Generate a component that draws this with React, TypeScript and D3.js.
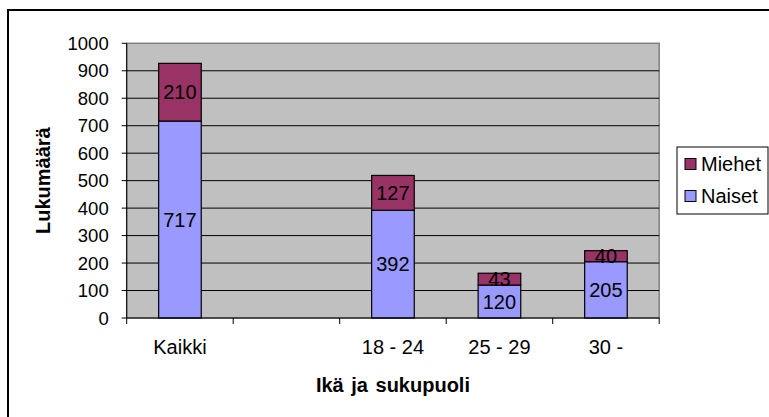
import React, { useEffect, useRef } from "react";
import * as d3 from "d3";

const categories = ["Kaikki", "", "18 - 24", "25 - 29", "30 -"];
const naiset = [717, null, 392, 120, 205];
const miehet = [210, null, 127, 43, 40];
const yTicks = [0, 100, 200, 300, 400, 500, 600, 700, 800, 900, 1000];

const W = 769;
const H = 417;
const FONT = "Arial, 'Liberation Sans', sans-serif";

export default function App() {
  const ref = useRef<SVGSVGElement>(null);

  useEffect(() => {
    const svg = d3.select(ref.current);
    svg.selectAll("*").remove();

    const left = 126.7;
    const right = 659.2;
    const top = 43.3;
    const bottom = 318;

    // outer chart frame (right/bottom edges fall outside the picture)
    svg.append("rect")
      .attr("x", 8).attr("y", 10)
      .attr("width", W + 10).attr("height", H + 10)
      .attr("fill", "white").attr("stroke", "black").attr("stroke-width", 2);

    const x = d3.scaleBand().domain(categories.map((c, i) => String(i))).range([left, right]).padding(0);
    const y = d3.scaleLinear().domain([0, 1000]).range([bottom, top]);
    const barW = x.bandwidth() / 2.5;

    svg.append("rect")
      .attr("x", left).attr("y", top)
      .attr("width", right - left).attr("height", bottom - top)
      .attr("fill", "#C0C0C0").attr("stroke", "#808080").attr("stroke-width", 1.5);

    svg.append("g").selectAll("line").data(yTicks.filter(t => t > 0 && t < 1000)).join("line")
      .attr("x1", left).attr("x2", right)
      .attr("y1", d => y(d)).attr("y2", d => y(d))
      .attr("stroke", "black").attr("stroke-width", 1);

    // bars
    const g = svg.append("g");
    categories.forEach((c, i) => {
      const n = naiset[i];
      const m = miehet[i];
      if (n == null || m == null) return;
      const cx = (x(String(i)) as number) + x.bandwidth() / 2;
      g.append("rect")
        .attr("x", cx - barW / 2).attr("y", y(n))
        .attr("width", barW).attr("height", y(0) - y(n))
        .attr("fill", "#9999FF").attr("stroke", "black").attr("stroke-width", 1.2);
      g.append("rect")
        .attr("x", cx - barW / 2).attr("y", y(n + m))
        .attr("width", barW).attr("height", y(n) - y(n + m))
        .attr("fill", "#993366").attr("stroke", "black").attr("stroke-width", 1.2);
      g.append("text")
        .attr("x", cx).attr("y", (y(0) + y(n)) / 2)
        .attr("text-anchor", "middle").attr("dominant-baseline", "central")
        .attr("font-family", FONT).attr("font-size", 20)
        .text(n);
      g.append("text")
        .attr("x", cx).attr("y", (y(n) + y(n + m)) / 2)
        .attr("text-anchor", "middle").attr("dominant-baseline", "central")
        .attr("font-family", FONT).attr("font-size", 20)
        .text(m);
    });

    // y axis
    svg.append("line")
      .attr("x1", left).attr("x2", left).attr("y1", top).attr("y2", bottom)
      .attr("stroke", "black").attr("stroke-width", 1);
    const ya = svg.append("g");
    ya.selectAll("line").data(yTicks).join("line")
      .attr("x1", left - 5).attr("x2", left)
      .attr("y1", d => y(d)).attr("y2", d => y(d))
      .attr("stroke", "black");
    ya.selectAll("text").data(yTicks).join("text")
      .attr("x", left - 18).attr("y", d => y(d))
      .attr("text-anchor", "end").attr("dominant-baseline", "central")
      .attr("font-family", FONT).attr("font-size", 18.5)
      .text(d => d);

    // x axis
    svg.append("line")
      .attr("x1", left).attr("x2", right).attr("y1", bottom).attr("y2", bottom)
      .attr("stroke", "black").attr("stroke-width", 1.2);
    const xa = svg.append("g");
    const edges = categories.map((c, i) => x(String(i)) as number).concat([right]);
    xa.selectAll("line").data(edges).join("line")
      .attr("x1", d => d).attr("x2", d => d)
      .attr("y1", bottom).attr("y2", bottom + 6)
      .attr("stroke", "black");
    xa.selectAll("text").data(categories).join("text")
      .attr("x", (d, i) => (x(String(i)) as number) + x.bandwidth() / 2)
      .attr("y", 347)
      .attr("text-anchor", "middle").attr("dominant-baseline", "central")
      .attr("font-family", FONT).attr("font-size", 20)
      .text(d => d);

    // axis titles
    svg.append("text")
      .attr("transform", `translate(43, ${(top + bottom) / 2}) rotate(-90)`)
      .attr("text-anchor", "middle").attr("dominant-baseline", "central")
      .attr("font-family", FONT).attr("font-size", 20).attr("font-weight", "bold")
      .text("Lukumäärä");
    svg.append("text")
      .attr("x", (left + right) / 2).attr("y", 385)
      .attr("text-anchor", "middle").attr("dominant-baseline", "central")
      .attr("font-family", FONT).attr("font-size", 20).attr("font-weight", "bold")
      .attr("word-spacing", 2)
      .text("Ikä ja sukupuoli");

    // legend
    const lg = svg.append("g");
    lg.append("rect")
      .attr("x", 677).attr("y", 147).attr("width", 91).attr("height", 67)
      .attr("fill", "white").attr("stroke", "black").attr("stroke-width", 1);
    const legendItems = [
      { name: "Miehet", color: "#993366", cy: 164 },
      { name: "Naiset", color: "#9999FF", cy: 196 },
    ];
    legendItems.forEach(it => {
      lg.append("rect")
        .attr("x", 685).attr("y", it.cy - 5.5).attr("width", 11).attr("height", 11)
        .attr("fill", it.color).attr("stroke", "black").attr("stroke-width", 1);
      lg.append("text")
        .attr("x", 701).attr("y", it.cy)
        .attr("dominant-baseline", "central")
        .attr("font-family", FONT).attr("font-size", 20)
        .text(it.name);
    });
  }, []);

  return (
    <svg ref={ref} width={W} height={H}
      style={{ position: "absolute", left: 0, top: 0, background: "white" }} />
  );
}
